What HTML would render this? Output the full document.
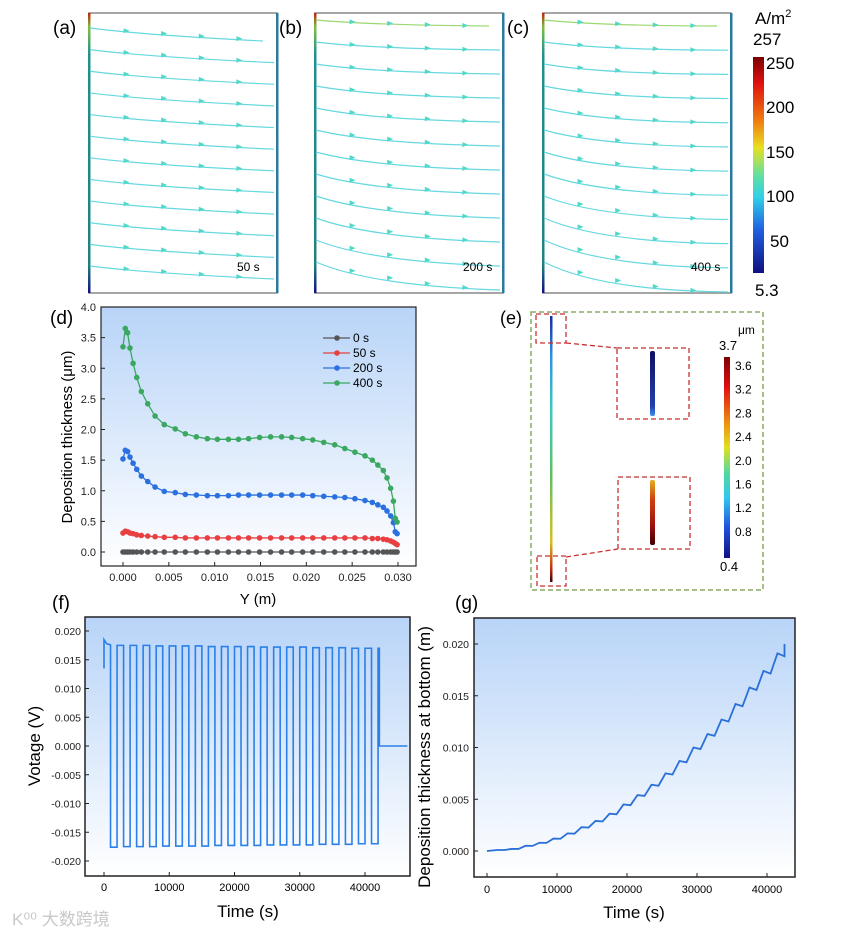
<!DOCTYPE html>
<html><head><meta charset="utf-8"><style>
body{margin:0;background:#fff}
svg{display:block;font-family:"Liberation Sans","Noto Sans CJK SC",sans-serif}
</style></head><body>
<svg id="fig" width="861" height="937" viewBox="0 0 861 937" xmlns="http://www.w3.org/2000/svg">
<defs>
<linearGradient id="jetV" x1="0" y1="0" x2="0" y2="1">
<stop offset="0" stop-color="#7a0000"/><stop offset="0.12" stop-color="#e01010"/><stop offset="0.3" stop-color="#f08010"/><stop offset="0.42" stop-color="#e8e020"/><stop offset="0.55" stop-color="#60e0a0"/><stop offset="0.65" stop-color="#30d0e8"/><stop offset="0.8" stop-color="#2060e0"/><stop offset="1" stop-color="#101080"/>
</linearGradient>
<linearGradient id="jetE" x1="0" y1="0" x2="0" y2="1">
<stop offset="0" stop-color="#800000"/><stop offset="0.15" stop-color="#e01010"/><stop offset="0.33" stop-color="#f09010"/><stop offset="0.45" stop-color="#e0e020"/><stop offset="0.58" stop-color="#50d8a0"/><stop offset="0.7" stop-color="#30c8f0"/><stop offset="0.85" stop-color="#2050e0"/><stop offset="1" stop-color="#101080"/>
</linearGradient>
<linearGradient id="strip" x1="0" y1="0" x2="0" y2="1">
<stop offset="0" stop-color="#1a2a9a"/><stop offset="0.15" stop-color="#3090e0"/><stop offset="0.35" stop-color="#40c8c0"/><stop offset="0.6" stop-color="#60c060"/><stop offset="0.85" stop-color="#d8c020"/><stop offset="0.95" stop-color="#c03010"/><stop offset="1" stop-color="#400000"/>
</linearGradient>
<linearGradient id="edgeL" x1="0" y1="0" x2="0" y2="1">
<stop offset="0" stop-color="#c02010"/><stop offset="0.05" stop-color="#80c040"/><stop offset="0.15" stop-color="#209090"/><stop offset="0.9" stop-color="#208080"/><stop offset="1" stop-color="#101080"/>
</linearGradient>
<linearGradient id="bgBlue" x1="0" y1="0" x2="0" y2="1">
<stop offset="0" stop-color="#b8d4f8"/><stop offset="1" stop-color="#ffffff"/>
</linearGradient>
<linearGradient id="insTop" x1="0" y1="0" x2="0" y2="1"><stop offset="0" stop-color="#101060"/><stop offset="0.85" stop-color="#2040b0"/><stop offset="1" stop-color="#4090f0"/></linearGradient>
<linearGradient id="insBot" x1="0" y1="0" x2="0" y2="1"><stop offset="0" stop-color="#e0b020"/><stop offset="0.3" stop-color="#d04010"/><stop offset="0.7" stop-color="#a01010"/><stop offset="1" stop-color="#400000"/></linearGradient>
</defs>
<g id="streams"></g>
<g id="cbar">
<rect x="753" y="57" width="11" height="216" fill="url(#jetV)"/>
<text x="755" y="24" font-size="17">A/m<tspan font-size="11" dy="-7">2</tspan></text>
<text x="753" y="45" font-size="17">257</text>
<text x="766" y="69" font-size="17">250</text>
<text x="766" y="113" font-size="17">200</text>
<text x="766" y="158" font-size="17">150</text>
<text x="766" y="202" font-size="17">100</text>
<text x="770" y="247" font-size="17">50</text>
<text x="755" y="296" font-size="17">5.3</text>
</g>
<g id="panelD"></g>
<g id="panelE">
<text x="500" y="324" font-size="18">(e)</text>
<rect x="531" y="312" width="232" height="278" fill="none" stroke="#8aaa60" stroke-width="1.5" stroke-dasharray="5,3"/>
<rect x="550" y="316" width="2.5" height="266" fill="url(#strip)"/>
<g fill="none" stroke="#c83030" stroke-width="1.3" stroke-dasharray="5,3">
<rect x="536" y="314" width="30" height="29"/><rect x="617" y="348" width="72" height="71"/>
<line x1="566" y1="343" x2="617" y2="348"/>
<rect x="537" y="556" width="29" height="30"/><rect x="618" y="477" width="72" height="72"/>
<line x1="566" y1="557" x2="618" y2="549"/>
</g>
<rect x="650" y="351" width="5" height="65" rx="2" fill="url(#insTop)"/>
<rect x="650" y="480" width="5" height="65" rx="2" fill="url(#insBot)"/>
<rect x="724" y="357" width="6" height="201" fill="url(#jetE)"/>
<text x="738" y="334" font-size="12">μm</text>
<text x="719" y="350" font-size="13">3.7</text>
<text x="720" y="571" font-size="13">0.4</text>
<g id="eTicks" font-size="13"></g>
</g>
<g id="panelF"></g>
<g id="panelG"></g>
<text x="12" y="925" font-size="17" fill="#c8c8c8">K⁰⁰ 大数跨境</text>
</svg>
<script>
// ---------- panel (d) data ----------
const dX = [0,0.00025,0.0005,0.00076,0.0011,0.0015,0.002,0.0027,0.0035,0.0045,0.0057,0.0068,0.008,0.0092,0.0103,0.0115,0.0126,0.0137,0.0149,0.0161,0.0173,0.0184,0.0196,0.0207,0.0219,0.0231,0.0242,0.0253,0.0264,0.0272,0.0278,0.0284,0.0288,0.0292,0.0295,0.0297,0.0299];
const d0s = dX.map(()=>0);
const d50s = [0.31,0.34,0.33,0.31,0.30,0.28,0.27,0.26,0.25,0.24,0.24,0.23,0.23,0.23,0.23,0.23,0.23,0.23,0.23,0.23,0.23,0.23,0.23,0.23,0.23,0.23,0.23,0.23,0.23,0.22,0.22,0.21,0.20,0.18,0.16,0.14,0.12];
const d200s = [1.52,1.66,1.64,1.55,1.45,1.35,1.24,1.15,1.06,0.99,0.97,0.94,0.93,0.92,0.92,0.92,0.93,0.93,0.93,0.93,0.93,0.93,0.93,0.92,0.91,0.90,0.89,0.87,0.84,0.81,0.77,0.73,0.67,0.59,0.48,0.33,0.30];
const d400s = [3.35,3.65,3.58,3.33,3.08,2.85,2.62,2.42,2.22,2.08,2.01,1.93,1.88,1.85,1.84,1.84,1.84,1.85,1.87,1.88,1.88,1.87,1.85,1.83,1.79,1.75,1.69,1.63,1.57,1.50,1.42,1.33,1.21,1.04,0.83,0.55,0.49];
const dLegend = ["0 s","50 s","200 s","400 s"];
const dYTicks = ["0.0","0.5","1.0","1.5","2.0","2.5","3.0","3.5","4.0"];
const dXTicks = ["0.000","0.005","0.010","0.015","0.020","0.025","0.030"];
// ---------- panel (f) data ----------
const fHigh = [0.0176,0.0175,0.0175,0.0175,0.0174,0.0174,0.0174,0.0174,0.0173,0.0173,0.0173,0.0173,0.0172,0.0172,0.0172,0.0172,0.0171,0.0171,0.0171,0.0170,0.0170];
const fLow = [-0.0176,-0.0175,-0.0175,-0.0175,-0.0174,-0.0174,-0.0174,-0.0174,-0.0173,-0.0173,-0.0173,-0.0173,-0.0172,-0.0172,-0.0172,-0.0172,-0.0171,-0.0171,-0.0171,-0.0170,-0.0170];
const fYTicks = ["-0.020","-0.015","-0.010","-0.005","0.000","0.005","0.010","0.015","0.020"];
const fXTicks = ["0","10000","20000","30000","40000"];
// ---------- panel (g) data ----------
const gLevels = [0,0.0001,0.0002,0.0005,0.0008,0.0012,0.0017,0.0023,0.0029,0.0036,0.0045,0.0054,0.0064,0.0075,0.0087,0.0100,0.0113,0.0127,0.0142,0.0158,0.0174,0.0191,0.0200];
const gYTicks = ["0.000","0.005","0.010","0.015","0.020"];
const gXTicks = ["0","10000","20000","30000","40000"];

const NS="http://www.w3.org/2000/svg";
function mk(tag,attrs,parent,txt){const e=document.createElementNS(NS,tag);for(const k in attrs)e.setAttribute(k,attrs[k]);if(txt!==undefined)e.textContent=txt;parent.appendChild(e);return e;}

// ---------- streamline panels ----------
(function(){
  const g=document.getElementById('streams');
  const panels=[{x:89,lab:"(a)",t:"50 s",top:28,bot:266,drop0:13,drop1:13,curve:0.2},{x:315,lab:"(b)",t:"200 s",top:20,bot:262,drop0:6,drop1:28,curve:0.5},{x:543,lab:"(c)",t:"400 s",top:20,bot:262,drop0:6,drop1:30,curve:0.6}];
  panels.forEach((p,pi)=>{
    const w=188;
    const pg=mk('g',{},g);
    
    
    mk('rect',{x:p.x,y:13,width:w,height:280,fill:'#fff',stroke:'#888','stroke-width':1.5},pg);
    mk('rect',{x:p.x-1,y:13,width:2.5,height:280,fill:'url(#edgeL)'},pg);
    mk('rect',{x:p.x+w-1,y:13,width:2.5,height:280,fill:'#2a7aa0'},pg);
    const n=12;
    for(let i=0;i<n;i++){
      const y0=p.top+(p.bot-p.top)*i/(n-1);
      const drop=p.drop0+(p.drop1-p.drop0)*i/(n-1);
      const xe=p.x+w-(i==0?14:3);
      const cy=y0+drop*p.curve;
      const path=mk('path',{d:`M${p.x+1},${y0} Q${p.x+w*0.3},${cy+drop*0.35} ${xe},${y0+drop}`,fill:'none',stroke:i==0&&pi>0?'#9ad870':'#66d8e0','stroke-width':1.2},pg);
      
      
      [0.2,0.4,0.6,0.8].forEach(f=>{
        const ax=p.x+w*f; const t=f; const ay=(1-t)*(1-t)*y0+2*t*(1-t)*(cy+drop*0.35)+t*t*(y0+drop);
        mk('path',{d:`M${ax-3},${ay-2.5} L${ax+3},${ay} L${ax-3},${ay+2.5}Z`,fill:'#50d8c8'},pg);
      });
    }
    const lab=mk('text',{x:p.x-36,y:34,'font-size':19},pg,p.lab);
    
    
    mk('text',{x:p.x+w-40,y:271,'font-size':12},pg,p.t);
  });
})();

// ---------- panel (d) ----------
(function(){
  const g=document.getElementById('panelD');
  const L=101,R=416,T=307,B=566;
  const sx=v=>123+(v/0.03)*275, sy=v=>552-v*61.25;
  mk('rect',{x:L,y:T,width:R-L,height:B-T,fill:'url(#bgBlue)',stroke:'#222','stroke-width':1.2},g);
  dYTicks.forEach((t,i)=>{const y=sy(i*0.5);mk('line',{x1:L,y1:y,x2:L+4,y2:y,stroke:'#222'},g);mk('text',{x:L-5,y:y+4,'font-size':11,'text-anchor':'end',fill:'#222'},g,t);});
  dXTicks.forEach((t,i)=>{const x=sx(i*0.005);mk('line',{x1:x,y1:B,x2:x,y2:B-4,stroke:'#222'},g);mk('text',{x:x,y:B+15,'font-size':11,'text-anchor':'middle',fill:'#222'},g,t);});
  mk('text',{x:258,y:604,'font-size':15,'text-anchor':'middle'},g,"Y (m)");
  mk('text',{x:0,y:0,'font-size':15,'text-anchor':'middle',transform:'translate(72,437) rotate(-90)'},g,"Deposition thickness (μm)");
  mk('text',{x:50,y:324,'font-size':19},g,"(d)");
  const series=[d0s,d50s,d200s,d400s], cols=['#555555','#e84040','#2a70e0','#3aa860'];
  series.forEach((s,si)=>{
    const sg=mk('g',{},g);
    
    
    mk('polyline',{points:dX.map((x,i)=>sx(x)+','+sy(s[i])).join(' '),fill:'none',stroke:cols[si],'stroke-width':1.3},sg);
    dX.forEach((x,i)=>{const c=mk('circle',{cx:sx(x),cy:sy(s[i]),r:2.8,fill:cols[si]},sg);});
    const ly=338+si*15;
    const le=mk('g',{},g);
    
    
    mk('line',{x1:323,y1:ly,x2:350,y2:ly,stroke:cols[si],'stroke-width':1.3},le);
    mk('circle',{cx:337,cy:ly,r:2.8,fill:cols[si]},le);
    mk('text',{x:353,y:ly+4,'font-size':12},le,dLegend[si]);
  });
})();

// ---------- panel (e) ticks ----------
(function(){
  const g=document.getElementById('eTicks');
  [3.6,3.2,2.8,2.4,2.0,1.6,1.2,0.8].forEach((v,i)=>{const y=366+i*23.7;mk('text',{x:735,y:y+4,'font-size':12},g,v.toFixed(1));});
})();

// ---------- panel (f) ----------
(function(){
  const g=document.getElementById('panelF');
  const L=85,R=410,T=617,B=876;
  const sx=v=>104+v/40000*261, sy=v=>746-v*5750;
  mk('rect',{x:L,y:T,width:R-L,height:B-T,fill:'url(#bgBlue)',stroke:'#222','stroke-width':1.5},g);
  fYTicks.forEach((t,i)=>{const v=-0.02+i*0.005,y=sy(v);mk('line',{x1:L,y1:y,x2:L+4,y2:y,stroke:'#222'},g);mk('text',{x:L-4,y:y+4,'font-size':10.5,'text-anchor':'end',fill:'#222'},g,t);});
  fXTicks.forEach((t,i)=>{const x=sx(i*10000);mk('line',{x1:x,y1:B,x2:x,y2:B-4,stroke:'#222'},g);mk('text',{x:x,y:B+15,'font-size':11,'text-anchor':'middle'},g,t);});
  mk('text',{x:248,y:917,'font-size':17,'text-anchor':'middle'},g,"Time (s)");
  mk('text',{x:0,y:0,'font-size':17,'text-anchor':'middle',transform:'translate(40,746) rotate(-90)'},g,"Votage (V)");
  mk('text',{x:52,y:609,'font-size':19},g,"(f)");
  const pts=[[0,0.0135],[0,0.0185],[400,0.0178]];
  fHigh.forEach((h,i)=>{const t0=i*2000;if(i>0){pts.push([t0,fLow[i-1]]);pts.push([t0,h]);}pts.push([t0+1000,h]);pts.push([t0+1000,fLow[i]]);pts.push([t0+2000,fLow[i]]);});
  const last=fHigh.length*2000;
  pts.push([last,fHigh[fHigh.length-1]]);pts.push([last+200,fHigh[fHigh.length-1]]);pts.push([last+200,0]);pts.push([46500,0]);
  const pl=mk('polyline',{points:pts.map(p=>sx(p[0])+','+sy(p[1])).join(' '),fill:'none',stroke:'#2a80e8','stroke-width':1.6},g);
  
  
})();

// ---------- panel (g) ----------
(function(){
  const g=document.getElementById('panelG');
  const L=474,R=795,T=618,B=877;
  const sx=v=>487+v/40000*280, sy=v=>851-v*10350;
  mk('rect',{x:L,y:T,width:R-L,height:B-T,fill:'url(#bgBlue)',stroke:'#222','stroke-width':1.5},g);
  gYTicks.forEach((t,i)=>{const y=sy(i*0.005);mk('line',{x1:L,y1:y,x2:L+4,y2:y,stroke:'#222'},g);mk('text',{x:L-5,y:y+4,'font-size':10.5,'text-anchor':'end',fill:'#222'},g,t);});
  gXTicks.forEach((t,i)=>{const x=sx(i*10000);mk('line',{x1:x,y1:B,x2:x,y2:B-4,stroke:'#222'},g);mk('text',{x:x,y:B+16,'font-size':11,'text-anchor':'middle'},g,t);});
  mk('text',{x:634,y:918,'font-size':17,'text-anchor':'middle'},g,"Time (s)");
  mk('text',{x:0,y:0,'font-size':17,'text-anchor':'middle',transform:'translate(430,757) rotate(-90)'},g,"Deposition thickness at bottom (m)");
  mk('text',{x:455,y:609,'font-size':19},g,"(g)");
  const pts=[];
  gLevels.forEach((v,i)=>{const t0=i*2000-500;if(i==0){pts.push([0,v]);}else if(i<gLevels.length-1){pts.push([t0,v]);pts.push([t0+1000,v*0.985]);}else{pts.push([42500,v]);}});
  const pl=mk('polyline',{points:pts.map(p=>sx(Math.max(0,p[0]))+','+sy(p[1])).join(' '),fill:'none',stroke:'#2a70d8','stroke-width':1.8},g);
  
  
})();
</script>
</body></html>
